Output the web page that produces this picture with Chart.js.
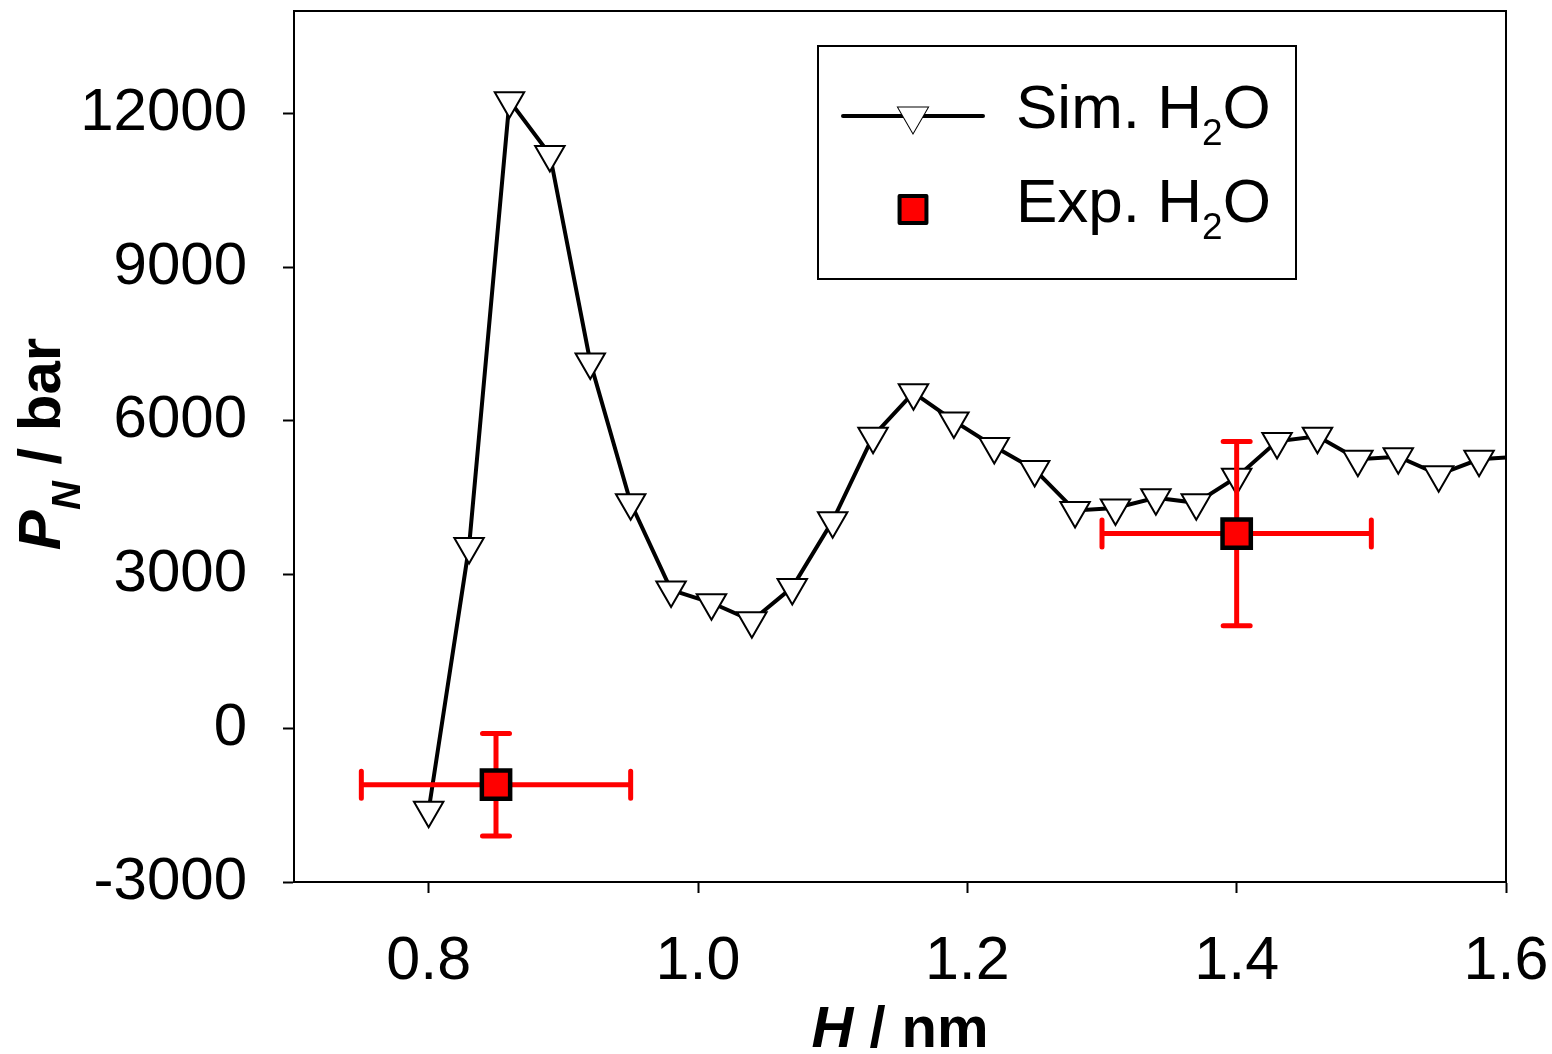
<!DOCTYPE html>
<html>
<head>
<meta charset="utf-8">
<script src="https://cdn.jsdelivr.net/npm/chart.js@4.4.1/dist/chart.umd.min.js"></script>
<style>
  html, body { margin: 0; padding: 0; background: #ffffff; }
  #wrap { width: 1552px; height: 1054px; }
</style>
</head>
<body>
<div id="wrap"><canvas id="c" width="1552" height="1054"></canvas></div>
<script>
// Normal pressure P_N versus slit width H
const simH = [0.80, 0.83, 0.86, 0.89, 0.92, 0.95, 0.98, 1.01, 1.04, 1.07,
              1.10, 1.13, 1.16, 1.19, 1.22, 1.25, 1.28, 1.31, 1.34, 1.37,
              1.40, 1.43, 1.46, 1.49, 1.52, 1.55, 1.58, 1.61];
const simP = [-1600, 3550, 12250, 11200, 7150, 4400, 2700, 2450, 2100, 2750,
              4050, 5700, 6550, 6000, 5500, 5050, 4250, 4300, 4500, 4400,
              4900, 5600, 5700, 5250, 5300, 4950, 5250, 5300];

const expH = [0.85, 1.40];
const expP = [-1100, 3800];
const expHErr = [0.10, 0.10];
const expPErr = [1000, 1800];

const xTicks = [0.8, 1.0, 1.2, 1.4, 1.6];
const yTicks = [-3000, 0, 3000, 6000, 9000, 12000];
const xRange = [0.7, 1.6];
const yRange = [-3000, 14000];

const seriesNames = [['Sim. H', '2', 'O'], ['Exp. H', '2', 'O']];
const xTitle = ['H', ' / nm'];
const yTitle = ['P', 'N', ' / bar'];

const FONT = '"Liberation Sans", Arial, Helvetica, sans-serif';
const RED = '#ff0000';

const simPoints = simH.map((h, i) => ({ x: h, y: simP[i] }));
const expPoints = expH.map((h, i) => ({ x: h, y: expP[i] }));

const TRI = { pointStyle: 'triangle', rotation: 180, radius: 17, borderWidth: 2 };
const SQR = { pointStyle: 'rect', rotation: 0, radius: 20, borderWidth: 4.5 };

// Error bars for the experimental points, drawn just before those points
const errorBars = {
  id: 'errorBars',
  beforeDatasetDraw(chart, args) {
    if (args.index !== 1) return;
    const { ctx, scales: { x, y } } = chart;
    const cap = 13.5;
    ctx.save();
    ctx.strokeStyle = RED;
    ctx.lineWidth = 5;
    ctx.lineCap = 'round';
    expH.forEach((h, i) => {
      const px = x.getPixelForValue(h);
      const py = y.getPixelForValue(expP[i]);
      const xl = x.getPixelForValue(h - expHErr[i]);
      const xr = x.getPixelForValue(h + expHErr[i]);
      const yt = y.getPixelForValue(expP[i] + expPErr[i]);
      const yb = y.getPixelForValue(expP[i] - expPErr[i]);
      ctx.beginPath();
      ctx.moveTo(xl, py); ctx.lineTo(xr, py);
      ctx.moveTo(xl, py - cap); ctx.lineTo(xl, py + cap);
      ctx.moveTo(xr, py - cap); ctx.lineTo(xr, py + cap);
      ctx.moveTo(px, yt); ctx.lineTo(px, yb);
      ctx.moveTo(px - cap, yt); ctx.lineTo(px + cap, yt);
      ctx.moveTo(px - cap, yb); ctx.lineTo(px + cap, yb);
      ctx.stroke();
    });
    ctx.restore();
  }
};

// Writes a run of [text, font, baselineShift] pieces starting at (x, y)
function drawRuns(ctx, runs, x, y) {
  let cx = x;
  runs.forEach(([t, f, dy]) => {
    ctx.font = f;
    ctx.fillText(t, cx, y + dy);
    cx += ctx.measureText(t).width;
  });
  return cx;
}
function runsWidth(ctx, runs) {
  let w = 0;
  runs.forEach(([t, f]) => { ctx.font = f; w += ctx.measureText(t).width; });
  return w;
}

// Frame, axis titles and legend
const decorations = {
  id: 'decorations',
  afterDraw(chart) {
    const { ctx, chartArea: a } = chart;
    ctx.save();
    // top and right frame lines
    ctx.strokeStyle = '#000';
    ctx.lineWidth = 2;
    ctx.beginPath();
    ctx.moveTo(a.left, a.top);
    ctx.lineTo(a.right, a.top);
    ctx.lineTo(a.right, a.bottom);
    ctx.stroke();

    ctx.fillStyle = '#000';
    ctx.textBaseline = 'alphabetic';
    ctx.textAlign = 'left';

    // x title
    const xr = [[xTitle[0], 'italic bold 58px ' + FONT, 0], [xTitle[1], 'bold 58px ' + FONT, 0]];
    const xw = runsWidth(ctx, xr);
    drawRuns(ctx, xr, (a.left + a.right) / 2 - xw / 2, 1047);

    // y title (rotated)
    const yr = [[yTitle[0], 'italic bold 60px ' + FONT, 0],
                [yTitle[1], 'italic bold 40px ' + FONT, 20],
                [yTitle[2], 'bold 60px ' + FONT, 0]];
    const yw = runsWidth(ctx, yr);
    ctx.save();
    ctx.translate(60, 444 + yw / 2);
    ctx.rotate(-Math.PI / 2);
    drawRuns(ctx, yr, 0, 0);
    ctx.restore();

    // legend box
    ctx.fillStyle = '#fff';
    ctx.fillRect(818, 46, 478, 233);
    ctx.strokeStyle = '#000';
    ctx.lineWidth = 2;
    ctx.strokeRect(818, 46, 478, 233);

    // legend sample: line with triangle
    ctx.lineWidth = 4;
    ctx.lineCap = 'round';
    ctx.beginPath();
    ctx.moveTo(843, 116);
    ctx.lineTo(983, 116);
    ctx.stroke();
    ctx.fillStyle = '#fff';
    ctx.strokeStyle = '#000';
    ctx.lineWidth = TRI.borderWidth;
    Chart.helpers.drawPoint(ctx, TRI, 913, 116);
    ctx.fill();
    // legend sample: red square
    ctx.fillStyle = RED;
    ctx.lineWidth = 4;
    ctx.lineJoin = 'round';
    Chart.helpers.drawPoint(ctx, { pointStyle: 'rect', rotation: 0, radius: 19 }, 913, 209.5);
    ctx.fill();
    ctx.stroke();

    ctx.fillStyle = '#000';
    const big = '62px ' + FONT, small = '37px ' + FONT;
    drawRuns(ctx, [[seriesNames[0][0], big, 0], [seriesNames[0][1], small, 17], [seriesNames[0][2], big, 0]], 1016, 128);
    drawRuns(ctx, [[seriesNames[1][0], big, 0], [seriesNames[1][1], small, 17], [seriesNames[1][2], big, 0]], 1016, 222);
    ctx.restore();
  }
};

// keep the plot frame fixed regardless of label overhang
function fixPadding(s) {
  s.paddingTop = 0; s.paddingBottom = 0; s.paddingLeft = 0; s.paddingRight = 0;
}

new Chart(document.getElementById('c'), {
  type: 'scatter',
  data: {
    datasets: [
      {
        label: seriesNames[0].join(''),
        data: simPoints,
        showLine: true,
        borderColor: '#000',
        borderWidth: 4,
        tension: 0,
        clip: 0,
        pointStyle: 'triangle',
        rotation: 180,
        pointRadius: (c) => (c.raw && c.raw.x > xRange[1] ? 0 : TRI.radius),
        pointBackgroundColor: '#fff',
        pointBorderColor: '#000',
        pointBorderWidth: TRI.borderWidth,
        order: 2
      },
      {
        label: seriesNames[1].join(''),
        data: expPoints,
        showLine: false,
        pointStyle: 'rect',
        pointRadius: SQR.radius,
        pointBackgroundColor: RED,
        pointBorderColor: '#000',
        pointBorderWidth: SQR.borderWidth,
        order: 1
      }
    ]
  },
  options: {
    responsive: false,
    animation: false,
    events: [],
    layout: { autoPadding: false, padding: { left: 0, right: 46, top: 11, bottom: 0 } },
    plugins: { legend: { display: false }, tooltip: { enabled: false } },
    scales: {
      x: {
        type: 'linear',
        min: xRange[0],
        max: xRange[1],
        afterBuildTicks: (s) => { s.ticks = xTicks.map(v => ({ value: v })); },
        afterFit: (s) => { s.height = 1054 - 882; fixPadding(s); },
        grid: { drawOnChartArea: false, drawTicks: true, tickLength: 11, tickWidth: 2, tickColor: '#000' },
        border: { display: true, color: '#000', width: 2 },
        ticks: {
          color: '#000',
          padding: 33,
          maxRotation: 0,
          font: { family: FONT, size: 61 },
          callback: (v) => Number(v).toFixed(1)
        }
      },
      y: {
        type: 'linear',
        min: yRange[0],
        max: yRange[1],
        afterBuildTicks: (s) => { s.ticks = yTicks.map(v => ({ value: v })); },
        afterFit: (s) => { s.width = 294; fixPadding(s); },
        grid: { drawOnChartArea: false, drawTicks: true, tickLength: 11, tickWidth: 2, tickColor: '#000' },
        border: { display: true, color: '#000', width: 2 },
        ticks: {
          color: '#000',
          padding: 36,
          font: { family: FONT, size: 60 },
          callback: (v) => String(v)
        }
      }
    }
  },
  plugins: [errorBars, decorations]
});
</script>
</body>
</html>
